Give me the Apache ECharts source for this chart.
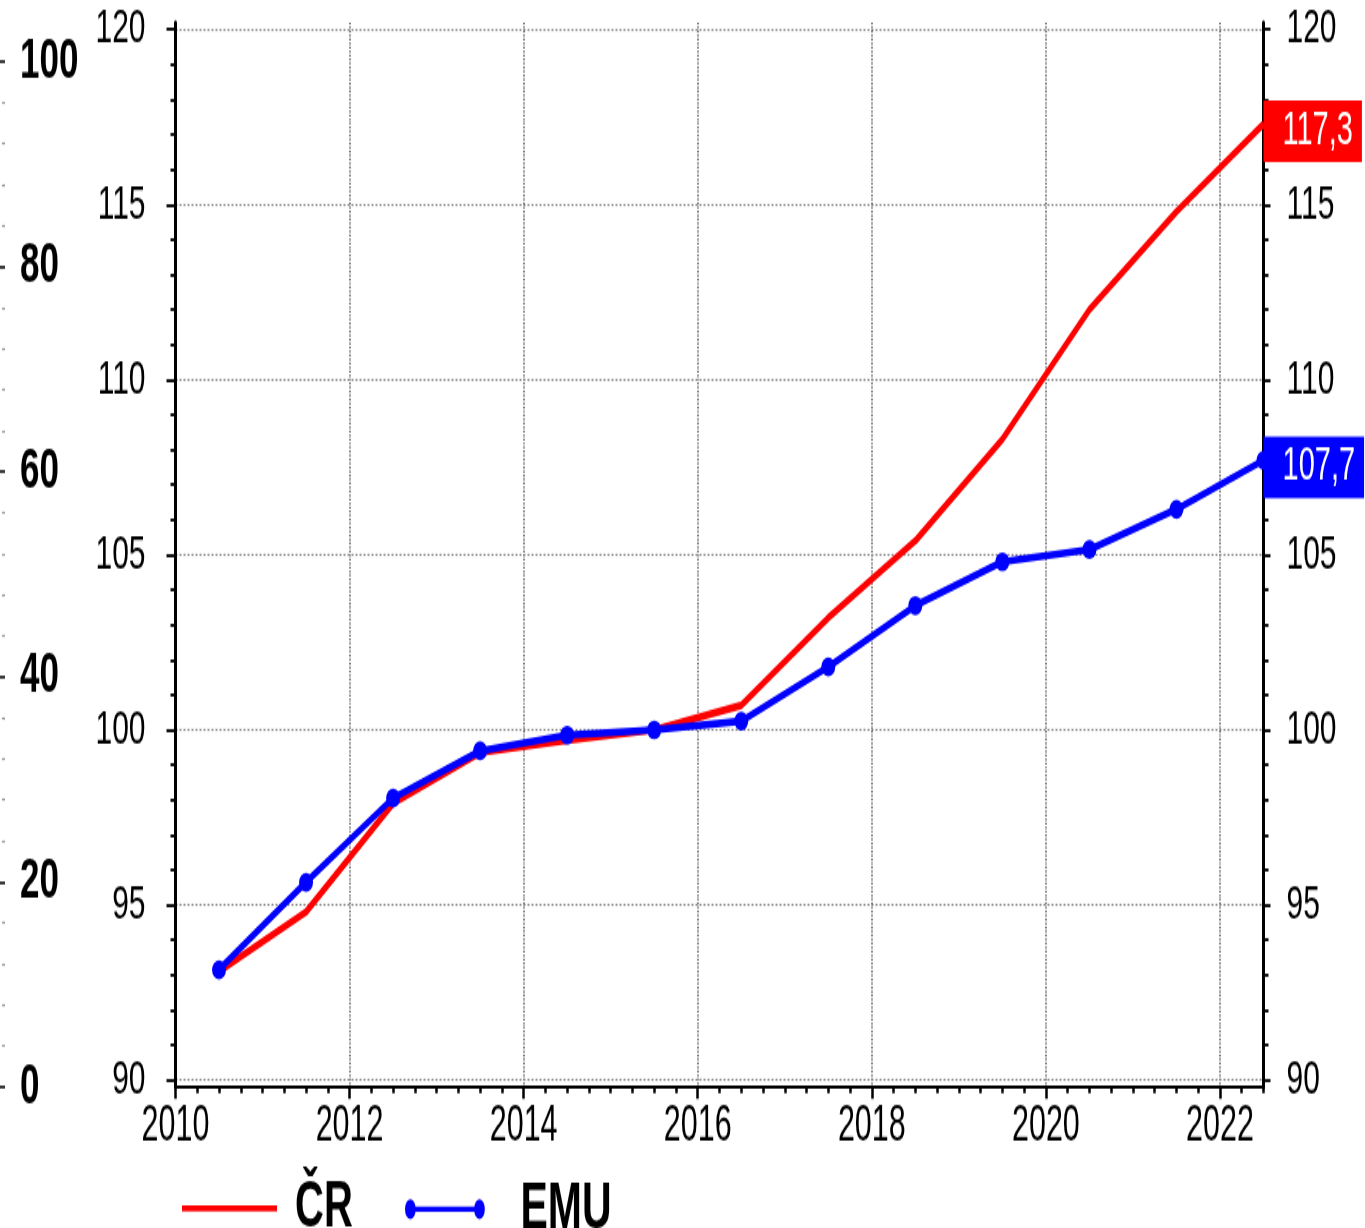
<!DOCTYPE html>
<html><head><meta charset="utf-8">
<script src="https://cdn.jsdelivr.net/npm/echarts@6/dist/echarts.min.js"></script>
<style>
html,body{margin:0;padding:0;background:#fff;overflow:hidden}
#wrap{width:1365px;height:1228px;overflow:hidden;background:#fff}
#c{width:1365px;height:758px;transform:scaleY(1.620053);transform-origin:0 0}
</style></head><body><div id="wrap"><div id="c"></div></div>
<script>
// ---- data ----
const years = [2010.5, 2011.5, 2012.5, 2013.5, 2014.5, 2015.5, 2016.5, 2017.5, 2018.5, 2019.5, 2020.5, 2021.5, 2022.5];
const crValues = [93.1, 94.8, 97.9, 99.35, 99.7, 100.0, 100.7, 103.2, 105.4, 108.3, 112.0, 114.8, 117.3];
const emuValues = [93.15, 95.65, 98.05, 99.4, 99.85, 100.0, 100.25, 101.8, 103.55, 104.8, 105.15, 106.3, 107.7];
const xTickLabels = [2010, 2012, 2014, 2016, 2018, 2020, 2022];
const seriesNames = ['ČR', 'EMU'];

const H = 758;
const S = 1228 / H; // vertical stretch of the original picture
const FONT = '"Liberation Sans", Arial, sans-serif';
const py = v => v / S;

const chart = echarts.init(document.getElementById('c'), null, {renderer: 'canvas'});
const L = 175.5, R = 1365 - 1263.5;
const gridAxes = {left: L, right: R, top: py(22.5), bottom: H - py(1087)};
const gridData = {left: L, right: R, top: py(29.5), bottom: H - py(1080)};
const gridOuter = {left: 5, width: 10, top: py(61.5), bottom: H - py(1087)};
const dottedH = {color: '#808080', width: py(2), type: [2, 2]};
const dottedV = {color: '#808080', width: 2, type: [py(2), py(2)]};

const fmt = p => String(p.value[1]).replace('.', ',');
const plain = v => String(v);

chart.setOption({
  animation: false,
  backgroundColor: '#fff',
  grid: [gridAxes, gridData, gridOuter],
  legend: [
    {data: ['ČR'], left: 182, top: py(1214) - 23.5, padding: 0, icon: 'rect',
     itemWidth: 95, itemHeight: py(6),
     textStyle: {fontFamily: FONT, fontWeight: 'bold', fontSize: 40, color: '#000', padding: [0, 0, 7, 13]}},
    {data: ['EMU'], left: 405, top: py(1214) - 23.5, padding: 0,
     icon: 'path://M0,7.5A6.5,7.5,0,1,1,13,7.5A6.5,7.5,0,1,1,0,7.5Z M84,7.5A6.5,7.5,0,1,1,97,7.5A6.5,7.5,0,1,1,84,7.5Z M12,5.5L85,5.5L85,9.5L12,9.5Z',
     itemWidth: 97, itemHeight: py(20),
     textStyle: {fontFamily: FONT, fontWeight: 'bold', fontSize: 41, color: '#000', padding: [0, 0, 7, 22]}}
  ],
  xAxis: [
    {gridIndex: 0, type: 'value', position: 'bottom', min: 2010, max: 2022.5, interval: 2,
     axisLine: {show: true, onZero: false, lineStyle: {color: '#000', width: py(3)}},
     axisTick: {show: true, customValues: xTickLabels, length: py(12), lineStyle: {color: '#000', width: 2.5}},
     axisLabel: {customValues: xTickLabels, formatter: plain, fontFamily: FONT, fontSize: 30.5, color: '#000', margin: 9},
     splitLine: {show: true, lineStyle: dottedV}},
    {gridIndex: 1, type: 'value', position: 'bottom', min: 2010, max: 2022.5, show: false},
    {gridIndex: 0, type: 'value', position: 'bottom', offset: 0, min: 2010, max: 2022.5, interval: 0.25,
     axisLine: {show: false, onZero: false},
     axisTick: {show: true, length: py(6), lineStyle: {color: '#000', width: 2.5}},
     axisLabel: {show: false}, splitLine: {show: false}},
    {gridIndex: 2, type: 'value', position: 'bottom', min: 0, max: 1, show: false}
  ],
  yAxis: [
    {gridIndex: 0, type: 'value', position: 'left', min: 89.8, max: 120.2,
     axisLine: {show: true, onZero: false, lineStyle: {color: '#000', width: 3}},
     axisTick: {show: false}, axisLabel: {show: false}, splitLine: {show: false}},
    {gridIndex: 0, type: 'value', position: 'right', min: 89.8, max: 120.2,
     axisLine: {show: true, onZero: false, lineStyle: {color: '#000', width: 3}},
     axisTick: {show: false}, axisLabel: {show: false}, splitLine: {show: false}},
    {gridIndex: 1, type: 'value', position: 'left', min: 90, max: 120, interval: 5,
     axisLine: {show: false, onZero: false},
     axisTick: {show: true, length: 9, lineStyle: {color: '#000', width: py(3)}},
     minorTick: {show: true, splitNumber: 5, length: 5, lineStyle: {color: '#000', width: py(3)}},
     axisLabel: {formatter: plain, fontFamily: FONT, fontSize: 30, color: '#000', margin: 30},
     splitLine: {show: true, lineStyle: dottedH}},
    {gridIndex: 1, type: 'value', position: 'right', min: 90, max: 120, interval: 5,
     axisLine: {show: false, onZero: false},
     axisTick: {show: true, length: 7, lineStyle: {color: '#000', width: py(3)}},
     minorTick: {show: true, splitNumber: 5, length: 5, lineStyle: {color: '#000', width: py(3)}},
     axisLabel: {formatter: plain, fontFamily: FONT, fontSize: 30, color: '#000', margin: 23},
     splitLine: {show: false}},
    {gridIndex: 2, type: 'value', position: 'left', min: 0, max: 100, interval: 20,
     axisLine: {show: false, onZero: false},
     axisTick: {show: true, length: 5, lineStyle: {color: '#000', width: py(2.5)}},
     minorTick: {show: true, splitNumber: 5, length: 3, lineStyle: {color: '#999', width: py(2)}},
     axisLabel: {inside: true, formatter: plain, fontFamily: FONT, fontWeight: 'bold', fontSize: 35, color: '#000', margin: 15},
     splitLine: {show: false}}
  ],
  series: [
    {name: seriesNames[0], type: 'line', xAxisIndex: 1, yAxisIndex: 2, z: 3,
     data: years.map((x, i) => [x, crValues[i]]),
     symbol: 'none', showSymbol: false,
     itemStyle: {color: '#ff0000'}, lineStyle: {color: '#ff0000', width: 4.6},
     endLabel: {show: true, formatter: fmt, color: '#fff', backgroundColor: '#ff0000',
       fontFamily: FONT, fontSize: 29, padding: [4.5, 9, 4.5, 19], distance: 0, offset: [0, py(7)]}},
    {name: seriesNames[1], type: 'line', xAxisIndex: 1, yAxisIndex: 2, z: 4,
     data: years.map((x, i) => [x, emuValues[i]]),
     symbol: 'circle', symbolSize: [14, py(19)], showSymbol: true, clip: false,
     itemStyle: {color: '#0000ff'}, lineStyle: {color: '#0000ff', width: 4.6},
     endLabel: {show: true, formatter: fmt, color: '#fff', backgroundColor: '#0000ff',
       fontFamily: FONT, fontSize: 29, padding: [4.5, 9, 4.5, 19], distance: 0, offset: [0, py(7)]}}
  ]
});
</script></body></html>
